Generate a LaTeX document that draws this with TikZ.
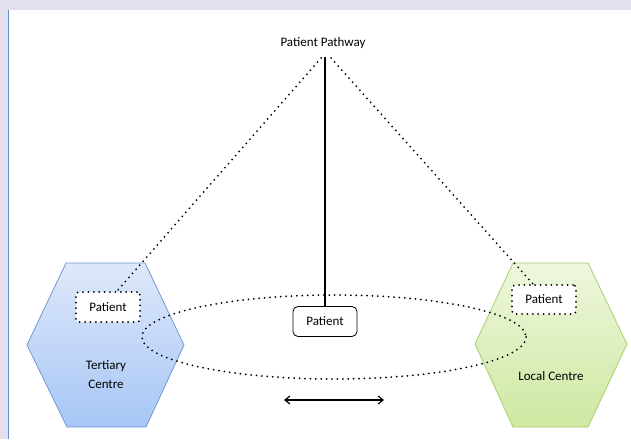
\documentclass[tikz,border=0pt]{standalone}
\usepackage{fontspec}
\setmainfont{Carlito}
\usetikzlibrary{arrows.meta}
\definecolor{lav}{HTML}{E4DFEC}
\definecolor{edgeblue}{HTML}{5B8FD0}
\definecolor{hexblueT}{HTML}{DDE8FA}
\definecolor{hexblueB}{HTML}{A8C6F6}
\definecolor{hexblueD}{HTML}{6F9AD6}
\definecolor{hexgreenT}{HTML}{EEF7DD}
\definecolor{hexgreenB}{HTML}{CFE8A2}
\definecolor{hexgreenD}{HTML}{A9CE6E}
\tikzset{
  dotline/.style={line width=2pt, dash pattern=on 0pt off 5.4pt, line cap=round},
  patbox/.style={draw, rounded corners=3pt, minimum width=64pt, minimum height=30pt, inner sep=0pt, font=\fontsize{13}{15}\selectfont},
  lbl/.style={font=\fontsize{13}{19}\selectfont, align=center, inner sep=0pt}
}
\begin{document}
\begin{tikzpicture}[x=1pt,y=-1pt]
\useasboundingbox (0,0) rectangle (631,439);
\fill[white] (0,0) rectangle (631,439);
\fill[lav] (0,0) rectangle (631,10);
\fill[lav] (0,10) rectangle (8,439);
\draw[edgeblue, line width=1.2pt] (8.6,10) -- (8.6,439);
% hexagons
\shade[top color=hexblueT, bottom color=hexblueB, draw=hexblueD, line width=0.8pt]
  (66,263) -- (145,263) -- (184,345) -- (146,427) -- (67,427) -- (27,345) -- cycle;
\shade[top color=hexgreenT, bottom color=hexgreenB, draw=hexgreenD, line width=0.8pt]
  (513,263) -- (588,263) -- (627,344) -- (588,427) -- (513,427) -- (475,344) -- cycle;
\node[lbl] (tert) at (106,375) {Tertiary\\Centre};
\node[lbl] (local) at (551,376) {Local Centre};
% ellipse
\draw[dotline] (334,337) ellipse [x radius=192, y radius=42];
% title and lines
\node[lbl] (title) at (323,43) {Patient Pathway};
\coordinate (apexL) at (321,58);
\coordinate (apexM) at (325,57);
\coordinate (apexR) at (331,58);
\node[patbox, fill=white, line width=0.8pt, rounded corners=5pt] (pc) at (325,321.5) {Patient};
\node[patbox, dotline, fill=white, minimum width=64pt, minimum height=30pt] (pl) at (108,307) {Patient};
\node[patbox, dotline, fill=white, minimum width=64pt, minimum height=29pt] (pr) at (544,299.5) {Patient};
\draw[line width=1.6pt] (apexM) -- (pc.north);
\draw[dotline] (apexL) -- (pl.north -| 117,0);
\draw[dotline] (apexR) -- (pr.north -| 533,0);
% double arrow
\coordinate (aL) at (284,400);
\coordinate (aR) at (384,400);
\draw[line width=1.2pt, {Straight Barb[length=5pt,width=8pt]}-{Straight Barb[length=5pt,width=8pt]}] (aL) -- (aR);
\end{tikzpicture}
\end{document}
